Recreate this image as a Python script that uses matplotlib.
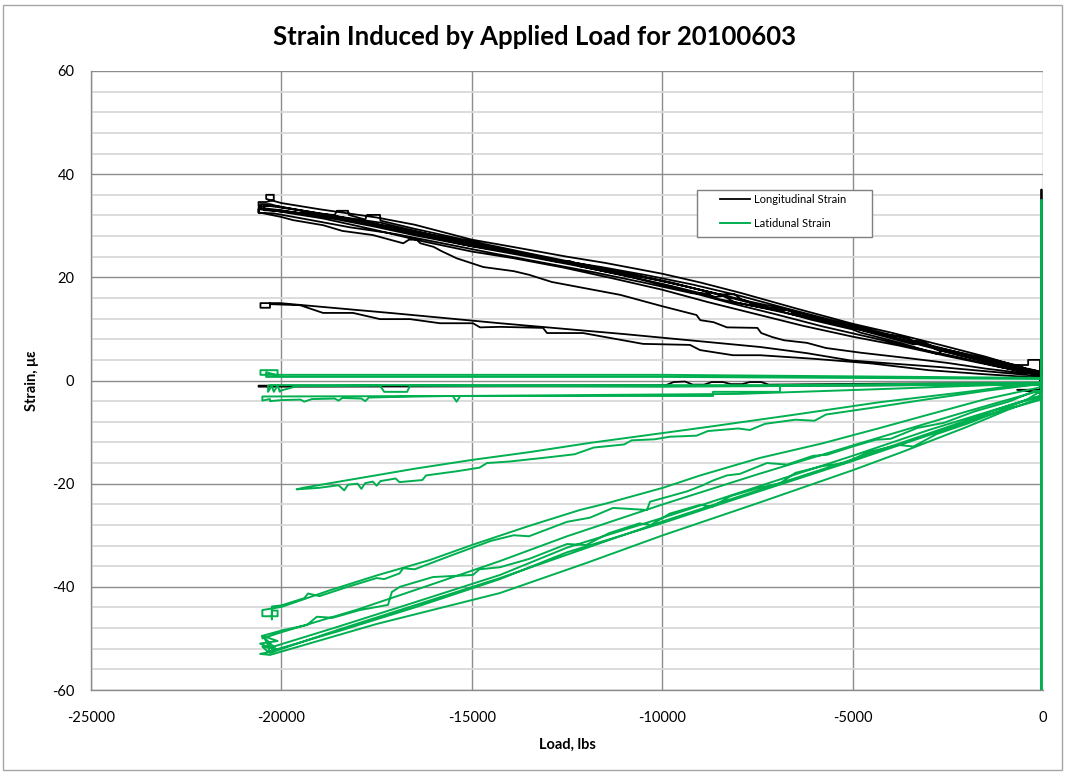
import numpy as np
import matplotlib
matplotlib.use("Agg")
import matplotlib.pyplot as plt
from matplotlib.patches import Rectangle

plt.rcParams['font.family'] = ['Lato', 'DejaVu Sans']
plt.rcParams['axes.unicode_minus'] = False

# ---------------- Longitudinal strain paths (load lbs, strain micro-strain) ----------------
long_spike = [(-40, 1.0), (-40, 37.0), (-40, 2.0)]

long_c1_up = [(-100, 1.8), (-600, 2.6), (-1500, 4.6), (-2700, 6.9), (-4000, 9.3), (-5000, 11.0),
              (-6500, 14.0), (-7950, 17.0), (-9000, 19.0), (-10000, 20.7), (-11500, 22.8),
              (-12500, 24.0), (-14000, 26.0), (-15000, 27.3), (-16500, 30.2), (-17500, 31.6),
              (-19000, 33.2), (-20000, 34.4), (-20400, 35.2), (-20400, 36.0), (-20200, 36.0),
              (-20200, 35.0)]
long_c1_down = [(-20400, 34.6), (-20600, 34.6), (-20600, 33.8), (-20100, 33.8), (-19200, 32.6),
                (-18200, 31.3), (-17000, 29.6), (-15800, 27.9), (-14500, 25.9), (-13000, 23.7),
                (-11500, 21.4), (-10000, 19.3), (-8500, 16.7), (-8100, 16.7), (-7900, 15.6),
                (-7000, 14.2), (-5500, 11.3), (-4000, 8.4), (-2500, 5.5), (-1200, 3.2), (-300, 1.6)]

long_c2_up = [(-200, 1.2), (-1000, 2.4), (-2200, 4.5), (-3300, 6.2), (-4500, 8.3), (-5800, 10.5),
              (-7000, 12.8), (-8200, 15.0), (-9500, 17.6), (-10800, 20.0), (-12000, 21.9),
              (-13500, 24.0), (-15000, 26.0), (-16200, 28.0), (-17500, 30.3), (-18800, 32.2),
              (-20000, 33.6), (-20300, 34.2), (-20550, 34.2)]
long_c2_down = [(-20550, 33.2), (-19800, 32.6), (-18600, 32.1), (-18540, 32.9), (-18250, 32.9),
                (-18230, 32.1), (-17800, 31.2), (-17750, 32.1), (-17410, 32.1), (-17400, 31.0),
                (-16500, 29.4), (-15200, 27.3), (-13600, 24.8), (-12000, 22.4), (-10200, 19.6),
                (-9000, 17.6), (-7800, 15.5), (-7500, 14.4), (-6700, 13.6), (-6300, 12.4),
                (-5200, 10.8), (-4200, 9.0), (-3600, 8.4), (-3300, 7.2), (-2300, 5.6),
                (-1300, 4.0), (-600, 2.8), (-100, 1.0)]

long_c3_up = [(0, 1.0), (-1200, 2.7), (-2500, 4.7), (-3800, 6.8), (-5000, 8.5), (-6300, 10.6),
              (-7500, 12.8), (-8800, 15.2), (-10000, 17.6), (-11300, 19.8), (-12600, 21.9),
              (-13900, 23.7), (-15000, 25.0), (-16300, 27.0), (-17600, 29.3), (-18900, 31.4),
              (-20000, 32.7), (-20400, 33.2), (-20600, 33.2)]
long_c3_down = [(-20600, 32.6), (-20000, 31.7), (-19700, 31.1), (-18900, 30.1), (-18400, 29.0),
                (-17600, 28.2), (-16800, 26.6), (-16650, 27.3), (-16450, 27.3), (-16350, 26.6),
                (-16000, 25.9), (-15800, 25.1), (-15400, 23.7), (-14700, 22.0), (-13900, 21.2),
                (-13500, 20.5), (-12900, 19.1), (-11100, 16.6), (-10000, 14.4), (-9100, 12.7),
                (-9000, 11.7), (-8650, 11.3), (-8300, 10.3), (-7500, 10.2), (-7400, 9.2),
                (-7100, 8.4), (-6800, 7.8), (-6200, 7.3), (-5700, 6.3), (-4800, 5.4),
                (-3500, 4.3), (-2500, 3.4), (-1500, 2.3), (-600, 1.5)]

long_c4_up = [(-100, 1.4), (-800, 2.5), (-1800, 4.4), (-2600, 5.9), (-2800, 5.2), (-3700, 7.2),
              (-4800, 9.3), (-5000, 9.9), (-6100, 11.8), (-7300, 14.3), (-8500, 16.6),
              (-9700, 18.9), (-11000, 20.9), (-12300, 22.6), (-13600, 24.5), (-14900, 26.4),
              (-16100, 28.3), (-17400, 30.6), (-18700, 32.0), (-19900, 33.4), (-20450, 34.0)]
long_c4_down = [(-20450, 33.0), (-20000, 32.9), (-19000, 32.0), (-17800, 30.4), (-16500, 28.5),
                (-15200, 26.7), (-14000, 25.0), (-12800, 23.1), (-12400, 23.1), (-12200, 22.2),
                (-11000, 20.4), (-9800, 18.4), (-8600, 16.2), (-8400, 16.4), (-8100, 15.2),
                (-7200, 13.8), (-6400, 12.5), (-6100, 12.6), (-5800, 11.6), (-4700, 9.7),
                (-3500, 7.5), (-3200, 7.7), (-2900, 6.6), (-1900, 4.6), (-900, 2.6), (-200, 1.2)]

long_c5_up = [(0, 0.8), (-1500, 1.8), (-2705, 2.6), (-4000, 3.3), (-5068, 3.9), (-6200, 5.3),
              (-7431, 6.5), (-9000, 7.6), (-11000, 9.0), (-14259, 11.1), (-17000, 13.0),
              (-20036, 15.0), (-20550, 15.0), (-20550, 14.1), (-20300, 14.1), (-20300, 15.0)]
long_c5_down = [(-20300, 14.8), (-19510, 14.6), (-18907, 13.1), (-18119, 13.1), (-17410, 11.9),
                (-16622, 11.9), (-15835, 11.1), (-14968, 11.1), (-14784, 10.3), (-14259, 10.4),
                (-13130, 10.2), (-13025, 9.2), (-12080, 9.2), (-10504, 7.1), (-9270, 6.9),
                (-9007, 5.9), (-8140, 4.9), (-7431, 4.9), (-6000, 4.2), (-4500, 3.3),
                (-3000, 2.0), (-1500, 1.2), (0, 0.5)]

long_flat = [(0, -0.5), (-4000, -0.6), (-7200, -0.8), (-7400, -0.3), (-7700, -0.3), (-7900, -0.7),
             (-8200, -0.7), (-8400, -0.3), (-8700, -0.3), (-8900, -0.8), (-9200, -0.8),
             (-9400, -0.2), (-9700, -0.3), (-9900, -0.9), (-15000, -1.0), (-20600, -1.0),
             (-20600, -1.2), (-10000, -1.1), (0, -0.8)]

long_c6_up = [(0, 1.6), (-1000, 3.1), (-2000, 5.0), (-3200, 7.3), (-4400, 9.6), (-5600, 11.8),
              (-6800, 14.1), (-8000, 16.5), (-9200, 18.6), (-10400, 20.4), (-11600, 22.0),
              (-12800, 23.4), (-14000, 24.9), (-15200, 26.3), (-16400, 28.0), (-17600, 29.9),
              (-18800, 31.6), (-20000, 33.0), (-20600, 33.5)]
long_c6_down = [(-20600, 32.5), (-20200, 32.4), (-19300, 31.2), (-18200, 29.7), (-17000, 28.4),
                (-15700, 26.5), (-14400, 24.6), (-13100, 22.8), (-11800, 21.0), (-10500, 19.0),
                (-9200, 16.9), (-8800, 16.9), (-8600, 15.9), (-7700, 14.6), (-6900, 13.5),
                (-6700, 13.8), (-6400, 12.6), (-5400, 11.0), (-4400, 9.0), (-3400, 7.0),
                (-3100, 7.2), (-2800, 6.0), (-1700, 4.0), (-700, 2.2), (0, 1.0)]

long_box = [(-1130, 3.0), (-390, 3.0), (-390, 4.0), (-80, 4.0), (-80, -2.4), (-680, -1.8),
            (-100, -1.8)]

# ---------------- Latitudinal strain paths ----------------
lat_spike = [(-40, 0.0), (-40, 35.0), (-40, -62.0), (-40, -0.5)]

lat_flat1 = [(0, 0.5), (-10000, 1.1), (-20300, 1.1), (-20550, 1.1), (-20550, 2.0), (-20100, 2.0),
             (-20100, 1.0), (-20400, 1.6), (-20400, 0.7), (-10000, 0.7), (0, 0.3)]

lat_flat2 = [(0, -0.4), (-6900, -0.9), (-17000, -0.9), (-20300, -0.9), (-20350, -1.0),
             (-20350, -2.2), (-20250, -1.0), (-20200, -2.2), (-20100, -1.0), (-20040, -2.2),
             (-20040, -2.0), (-19590, -1.1), (-17410, -1.0), (-17300, -2.2), (-16700, -2.2),
             (-16620, -1.0), (-10000, -1.2), (-5000, -1.0), (0, -0.6)]

lat_flat3 = [(0, -0.9), (-6906, -0.9), (-6906, -2.2), (-8666, -2.2), (-8666, -3.0), (-15000, -3.0),
             (-20500, -3.1), (-20500, -3.9), (-20300, -3.6), (-20300, -4.0), (-20000, -3.8),
             (-19500, -3.7), (-19400, -4.1), (-19200, -3.6), (-18600, -3.5), (-18500, -3.9),
             (-18400, -3.4), (-17900, -3.5), (-17800, -4.0), (-17700, -3.3), (-16500, -3.1),
             (-15500, -3.0), (-15400, -4.1), (-15300, -3.0), (-8000, -2.6), (-4000, -1.6),
             (-1500, -0.9), (0, -0.5)]

lat_c4_up = [(0, -0.3), (-2000, -2.2), (-4280, -4.2), (-6500, -6.6), (-8800, -9.0),
             (-10000, -10.2), (-11900, -12.1), (-13500, -13.9), (-15000, -15.4), (-16500, -17.1),
             (-18000, -19.0), (-19430, -20.8), (-19600, -21.1)]
lat_c4_down = [(-19600, -21.1), (-19000, -20.8), (-18500, -20.3), (-18350, -21.3), (-18250, -20.2),
               (-18000, -20.0), (-17900, -21.0), (-17800, -19.9), (-17600, -19.6), (-17500, -20.4),
               (-17400, -19.5), (-17000, -19.0), (-16900, -19.7), (-16300, -19.3), (-16200, -18.4),
               (-15400, -17.6), (-14800, -16.9), (-14600, -16.0), (-14000, -15.7), (-13000, -14.9),
               (-12300, -14.3), (-11800, -13.0), (-11000, -12.4), (-10800, -11.6), (-10200, -11.4),
               (-9800, -10.9), (-9100, -10.7), (-8800, -9.8), (-8000, -9.3), (-7700, -9.6),
               (-7300, -8.4), (-6500, -7.6), (-6000, -7.8), (-5700, -6.6), (-4500, -5.3),
               (-3000, -3.6), (-1500, -2.0), (0, -0.6)]

lat_c5_up = [(0, -1.2), (-1500, -3.6), (-3000, -6.6), (-4280, -9.2), (-5800, -12.2), (-7430, -15.0),
             (-9000, -18.4), (-9980, -20.8), (-11500, -23.9), (-12160, -25.1), (-13500, -28.2),
             (-15000, -31.9), (-16100, -34.8), (-17500, -37.8), (-18700, -40.6), (-20000, -43.9),
             (-20500, -44.5), (-20500, -45.7), (-20100, -45.7), (-20100, -44.6), (-20250, -44.6),
             (-20250, -46.3), (-20250, -43.8), (-20000, -43.6)]
lat_c5_down = [(-19400, -42.2), (-19300, -41.3), (-19000, -41.8), (-18300, -40.1), (-17500, -38.3),
               (-17300, -38.5), (-16900, -37.4), (-16800, -36.4), (-16500, -36.6), (-15500, -33.8),
               (-14500, -31.1), (-13900, -30.0), (-13500, -30.2), (-12500, -27.4), (-11900, -26.6),
               (-11290, -24.7), (-10400, -25.1), (-10320, -23.5), (-9350, -21.5), (-8930, -20.3),
               (-8670, -19.4), (-8300, -18.4), (-7960, -18.1), (-7250, -16.0), (-6720, -16.3),
               (-6040, -14.6), (-5670, -14.4), (-5000, -12.8), (-4400, -11.5), (-4000, -11.3),
               (-3300, -9.2), (-2600, -8.2), (-1800, -6.0), (-900, -4.1), (-200, -2.0)]

lat_c6_up = [(-100, -2.0), (-2000, -6.0), (-5000, -12.6), (-7500, -18.2), (-9980, -24.0),
             (-12500, -30.2), (-14260, -35.0), (-16000, -39.4), (-18000, -44.4), (-20000, -48.8),
             (-20500, -50.0)]
lat_c6_down = [(-20500, -49.5), (-19960, -48.4), (-19330, -47.4), (-19070, -45.8), (-18650, -46.0),
               (-17940, -44.5), (-17200, -43.5), (-17100, -41.0), (-16890, -40.0), (-16020, -38.1),
               (-14970, -37.7), (-14800, -36.6), (-14260, -36.2), (-13500, -34.6), (-12500, -31.7),
               (-12000, -31.9), (-11400, -29.6), (-10600, -27.7), (-10300, -28.0), (-9800, -25.8),
               (-9000, -24.1), (-8700, -24.5), (-8200, -22.4), (-7500, -20.9), (-6900, -19.9),
               (-6500, -17.9), (-5800, -16.6), (-5200, -16.0), (-4600, -13.9), (-3800, -12.5),
               (-3400, -12.8), (-2800, -10.4), (-2000, -8.4), (-1200, -6.1), (-400, -3.6),
               (0, -1.8)]

lat_c7_up = [(-100, -3.0), (-1500, -6.2), (-3000, -9.6), (-5000, -14.6), (-7500, -20.6),
             (-9980, -26.6), (-12500, -32.4), (-14260, -37.7), (-16500, -43.0), (-18500, -47.7),
             (-20300, -51.8), (-20560, -51.0), (-20100, -50.5), (-20500, -49.5), (-20200, -52.5),
             (-20560, -53.0), (-20300, -53.2)]
lat_c7_down = [(-17500, -47.2), (-14260, -41.2), (-12000, -35.4), (-9980, -30.0), (-7500, -23.8),
               (-5000, -17.4), (-3750, -14.0), (-2000, -9.0), (-800, -5.3), (-100, -3.5)]

lat_c8_up = [(-100, -3.8), (-1500, -6.8), (-3000, -10.6), (-5000, -15.6), (-7500, -21.6),
             (-9980, -27.6), (-12500, -33.3), (-14260, -38.5), (-16500, -44.0), (-18500, -48.6),
             (-20350, -52.6), (-20500, -51.6), (-20150, -52.0), (-20400, -50.2), (-20300, -52.8)]
lat_c8_down = [(-18500, -48.3), (-14260, -38.3), (-9980, -27.3), (-5000, -15.3), (-2500, -9.0),
               (-800, -4.6), (0, -3.0)]

long_paths = [long_spike, long_c1_up, long_c1_down, long_c2_up, long_c2_down, long_c3_up,
              long_c3_down, long_c4_up, long_c4_down, long_c5_up, long_c5_down, long_flat,
              long_c6_up, long_c6_down, long_box]
lat_paths = [lat_spike, lat_flat1, lat_flat2, lat_flat3, lat_c4_up, lat_c4_down, lat_c5_up,
             lat_c5_down, lat_c6_up, lat_c6_down, lat_c7_up, lat_c7_down, lat_c8_up, lat_c8_down]

long_xy = np.array([pt for path in long_paths for pt in path], dtype=float)
lat_xy = np.array([pt for path in lat_paths for pt in path], dtype=float)

x_ticks = [-25000, -20000, -15000, -10000, -5000, 0]
y_ticks = [-60, -40, -20, 0, 20, 40, 60]

W, H = 1065, 772
fig = plt.figure(figsize=(W / 100, H / 100), dpi=100)
ax = fig.add_axes([91 / W, 1 - 690 / H, 952 / W, 619 / H])

ax.plot(long_xy[:, 0], long_xy[:, 1], color='black', lw=1.3, label='Longitudinal Strain',
        solid_joinstyle='round', zorder=3)
ax.plot(lat_xy[:, 0], lat_xy[:, 1], color='#00B050', lw=1.4, label='Latidunal Strain',
        solid_joinstyle='round', zorder=4)

ax.set_xlim(-25000, 0)
ax.set_ylim(-60, 60)
ax.set_xticks(x_ticks)
ax.set_yticks(y_ticks)
ax.set_yticks(np.arange(-60, 61, 4), minor=True)
ax.grid(which='minor', axis='y', color='#d9d9d9', lw=1.3, zorder=0)
ax.grid(which='major', axis='y', color='#8c8c8c', lw=1.0, zorder=1)
ax.grid(which='major', axis='x', color='#8c8c8c', lw=1.0, zorder=1)
ax.set_axisbelow(True)
ax.tick_params(which='both', length=0)
ax.tick_params(axis='y', pad=12, labelsize=10.5)
ax.tick_params(axis='x', pad=15, labelsize=10.5)
for side in ('top', 'right'):
    ax.spines[side].set_visible(False)
for side in ('left', 'bottom'):
    ax.spines[side].set_color('#8c8c8c')
    ax.spines[side].set_linewidth(1.0)

ax.set_xlabel('Load, lbs', fontsize=10.5, fontweight='bold', labelpad=9)
ax.set_ylabel('Strain, \u03bc\u03b5', fontsize=10.5, fontweight='bold', labelpad=9)

# legend frame drawn as its own box, entries placed inside it
ax.add_patch(Rectangle(((697 - 91) / 952, (690 - 237) / 619), 175 / 952, 47 / 619,
                       transform=ax.transAxes, facecolor='white', edgecolor='#7f7f7f',
                       lw=1.0, zorder=5))
leg = ax.legend(loc='upper left', bbox_to_anchor=((720 - 91) / 952, (690 - 194) / 619),
                fontsize=8, frameon=False, handlelength=2.7, borderpad=0,
                labelspacing=1.15, borderaxespad=0, handletextpad=0.4)
leg.set_zorder(6)

fig.text(0.5023, 1 - 37 / H, 'Strain Induced by Applied Load for 20100603',
         ha='center', va='center', fontsize=18.5, fontweight='bold')

fig.patches.append(Rectangle((3 / W, 2 / H), 1059 / W, 765 / H, transform=fig.transFigure,
                             fill=False, edgecolor='#a6a6a6', lw=1.0))

fig.savefig('out.png', dpi=100)
